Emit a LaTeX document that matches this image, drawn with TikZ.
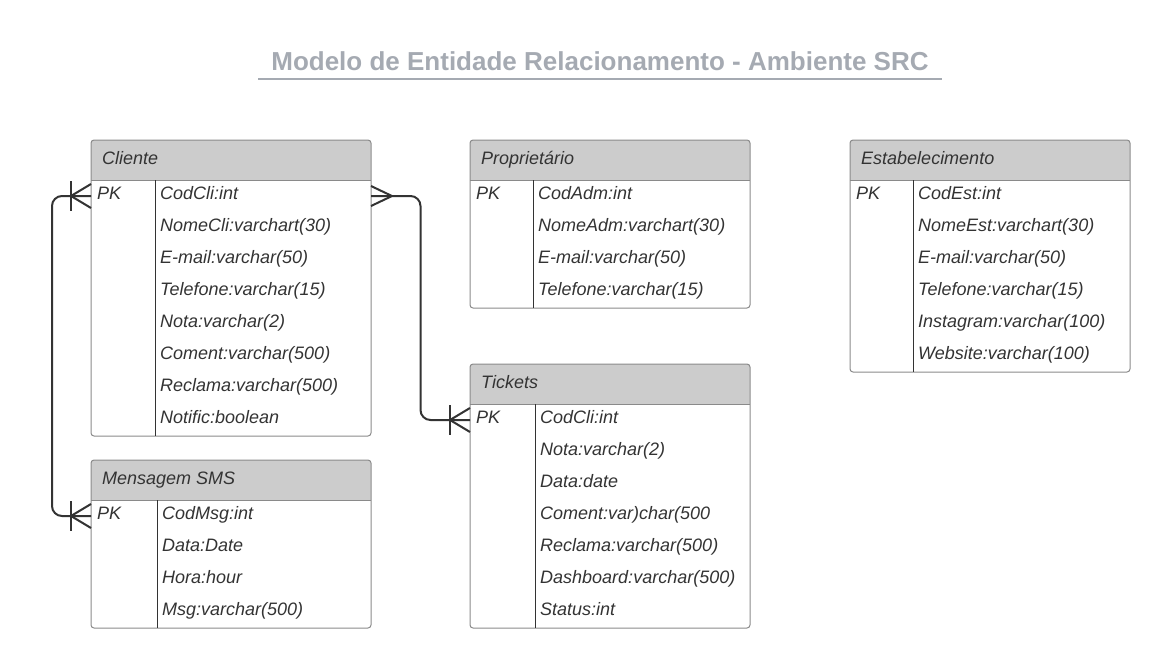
\documentclass[tikz,border=0pt]{standalone}
\usepackage{fontspec}
\setmainfont{Liberation Sans}
\usetikzlibrary{calc}

\definecolor{hdrgray}{HTML}{CCCCCC}
\definecolor{boxgray}{HTML}{8A8A8A}
\definecolor{inkgray}{HTML}{333333}
\definecolor{titlegray}{HTML}{A5AAB2}

\tikzset{
	tblbox/.style={inner sep=0pt, outer sep=0pt, minimum width=280pt, anchor=north west},
	fld/.style={anchor=base west, inner sep=0pt, text=inkgray, font=\fontsize{18}{21}\selectfont\itshape},
	tblline/.style={draw=boxgray, line width=1pt},
	divline/.style={draw=inkgray, line width=1pt},
	conn/.style={draw=inkgray, line width=2pt, rounded corners=10pt},
	crowbar/.pic={
		\draw[inkgray, line width=2pt] (0,-12) -- (-20,0) -- (0,12);
		\draw[inkgray, line width=2pt] (-20,-15) -- (-20,15);
	},
	crowonly/.pic={
		\draw[inkgray, line width=2pt] (0,-10) -- (21,0) -- (0,10);
	}
}

% #1 name, #2 top left, #3 divider offset, #4 number of rows, #5 title, #6 fields
\newcommand{\ertable}[6]{
	\node[tblbox, minimum height={(40+32*#4)*1pt}] (#1) at #2 {};
	\begin{scope}
		\clip[rounded corners=3pt] (#1.north west) rectangle (#1.south east);
		\fill[hdrgray] (#1.north west) rectangle ([yshift=-40pt]#1.north east);
	\end{scope}
	\draw[tblline, rounded corners=3pt] (#1.north west) rectangle (#1.south east);
	\draw[tblline] ([yshift=-40pt]#1.north west) -- ([yshift=-40pt]#1.north east);
	\draw[divline] ([xshift=#3pt, yshift=-40pt]#1.north west) -- ([xshift=#3pt]#1.south west);
	\node[fld] (#1-t) at ([xshift=11pt, yshift=-24.5pt]#1.north west) {#5};
	\node[fld] (#1-pk) at ([xshift=6pt, yshift=-59.5pt]#1.north west) {PK};
	\foreach \f [count=\i from 0] in {#6}
		\node[fld] (#1-\i) at ([xshift={(#3+5)*1pt}, yshift={-(59.5+32*\i)*1pt}]#1.north west) {\f};
}

\begin{document}
\begin{tikzpicture}[x=1pt, y=-1pt]
	\useasboundingbox (0,0) rectangle (1164,662);

	% title
	\node[text=titlegray, font=\fontsize{26}{30}\selectfont\bfseries] (title) at (600,61) {Modelo de Entidade Relacionamento - Ambiente SRC};
	\coordinate (ulL) at (258,79);
	\coordinate (ulR) at (942,79);
	\draw[titlegray, line width=2pt] (ulL) -- (ulR);

	% tables
	\ertable{cliente}{(91,140)}{64}{8}{Cliente}{CodCli:int, NomeCli:varchart(30), E-mail:varchar(50), Telefone:varchar(15), Nota:varchar(2), Coment:varchar(500), Reclama:varchar(500), Notific:boolean}
	\ertable{prop}{(470,140)}{63}{4}{Proprietário}{CodAdm:int, NomeAdm:varchart(30), E-mail:varchar(50), Telefone:varchar(15)}
	\ertable{estab}{(850,140)}{63}{6}{Estabelecimento}{CodEst:int, NomeEst:varchart(30), E-mail:varchar(50), Telefone:varchar(15), Instagram:varchar(100), Website:varchar(100)}
	\ertable{tickets}{(470,364)}{65}{7}{Tickets}{CodCli:int, Nota:varchar(2), Data:date, Coment:var)char(500, Reclama:varchar(500), Dashboard:varchar(500), Status:int}
	\ertable{sms}{(91,460)}{66}{4}{Mensagem SMS}{CodMsg:int, Data:Date, Hora:hour, Msg:varchar(500)}

	% connectors
	\coordinate (cliL) at ([yshift=-56pt]cliente.north west);
	\coordinate (cliR) at ([yshift=-56pt]cliente.north east);
	\coordinate (smsL) at ([yshift=-56pt]sms.north west);
	\coordinate (tckL) at ([yshift=-56pt]tickets.north west);
	\coordinate (mid) at ($(cliR)!0.5!(tckL)$);

	\draw[conn] (cliL) -- ++(-39,0) |- (smsL);
	\draw[conn] (cliR) -| (mid) |- (tckL);

	\pic at (cliL) {crowbar};
	\pic at (smsL) {crowbar};
	\pic at (tckL) {crowbar};
	\pic at (cliR) {crowonly};
\end{tikzpicture}
\end{document}
